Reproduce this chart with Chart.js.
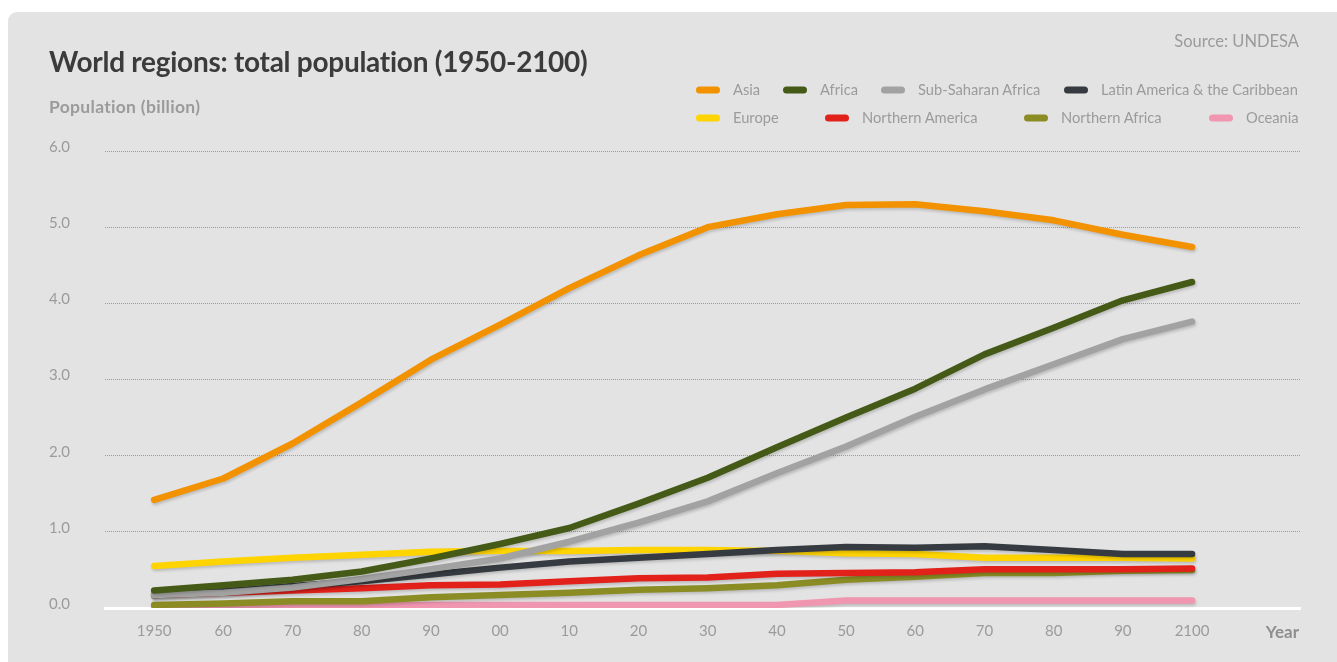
<!DOCTYPE html>
<html>
<head>
<meta charset="utf-8">
<script src="https://cdn.jsdelivr.net/npm/chart.js@4.4.1/dist/chart.umd.min.js"></script>
<style>
  html, body { margin:0; padding:0; background:#ffffff; }
  body { width:1337px; height:662px; position:relative; overflow:hidden; font-family: Lato, "Open Sans", sans-serif; }
  #card { position:absolute; left:8px; top:12px; width:1345px; height:670px; background:#e3e3e3; border-radius:9px; }
  #cv { position:absolute; left:0; top:0; }
  .txt { position:absolute; white-space:nowrap; transform:translateY(-50%); line-height:1.2; }
  #title { left:49px; top:62px; font-size:28px; font-weight:700; color:#3b3b3b; letter-spacing:-0.27px; }
  #ytitle { left:49px; top:106px; font-size:17.5px; font-weight:700; color:#9b9b9b; letter-spacing:0.3px; }
  #source { right:38px; top:42px; font-size:16.5px; color:#9b9b9b; }
  #year { right:38px; top:632px; font-size:17px; font-weight:700; color:#8e8e8e; }
  .leg { position:absolute; transform:translateY(-50%); white-space:nowrap; font-size:14.7px; color:#9b9b9b; line-height:1.2; }
  .sw { position:absolute; width:24px; height:7px; border-radius:4px; transform:translateY(-50%); }
</style>
</head>
<body>
<div id="card"></div>
<canvas id="cv" width="1337" height="662"></canvas>
<div class="txt" id="title">World regions: total population (1950-2100)</div>
<div class="txt" id="ytitle">Population (billion)</div>
<div class="txt" id="source">Source: UNDESA</div>
<div class="txt" id="year">Year</div>
<div id="legend"></div>
<script>
// ---- data ----
const years = [1950,1960,1970,1980,1990,2000,2010,2020,2030,2040,2050,2060,2070,2080,2090,2100];
const xTickLabels = ['1950','60','70','80','90','00','10','20','30','40','50','60','70','80','90','2100'];
const yTickLabels = ['0.0','1.0','2.0','3.0','4.0','5.0','6.0'];

const asia     = [1.42,1.70,2.16,2.70,3.26,3.72,4.20,4.63,5.00,5.17,5.29,5.30,5.21,5.09,4.90,4.74];
const africa   = [0.23,0.30,0.37,0.48,0.65,0.84,1.05,1.37,1.71,2.11,2.50,2.88,3.33,3.68,4.04,4.28];
const subSahAf = [0.17,0.20,0.27,0.38,0.51,0.65,0.87,1.12,1.40,1.77,2.12,2.51,2.87,3.20,3.53,3.76];
const latAm    = [0.17,0.22,0.29,0.35,0.44,0.53,0.61,0.66,0.71,0.76,0.80,0.79,0.81,0.76,0.71,0.71];
const europe   = [0.55,0.61,0.66,0.70,0.74,0.75,0.75,0.76,0.76,0.75,0.72,0.71,0.66,0.66,0.66,0.65];
const northAm  = [0.17,0.20,0.23,0.26,0.30,0.31,0.35,0.39,0.40,0.45,0.46,0.47,0.51,0.51,0.51,0.52];
const northAf  = [0.04,0.06,0.09,0.09,0.14,0.17,0.20,0.24,0.26,0.30,0.37,0.41,0.46,0.46,0.49,0.50];
const oceania  = [0.02,0.02,0.03,0.03,0.04,0.04,0.04,0.04,0.04,0.04,0.10,0.10,0.10,0.10,0.10,0.10];

const seriesNames  = ['Asia','Africa','Sub-Saharan Africa','Latin America & the Caribbean','Europe','Northern America','Northern Africa','Oceania'];
const seriesValues = [asia, africa, subSahAf, latAm, europe, northAm, northAf, oceania];
const seriesColors = ['#f39200','#445a16','#a2a2a2','#353b40','#ffd400','#e3211b','#8b8d24','#f196b0'];

// legend layout (positions only)
const legendPos = [
  [696,90],[783,90],[881,90],[1064,90],
  [696,118],[825,118],[1024,118],[1209,118]
];
const legendEl = document.getElementById('legend');
seriesNames.forEach((n,i)=>{
  const sw = document.createElement('div');
  sw.className='sw'; sw.style.left=legendPos[i][0]+'px'; sw.style.top=legendPos[i][1]+'px';
  sw.style.background=seriesColors[i];
  legendEl.appendChild(sw);
  const t = document.createElement('div');
  t.className='leg'; t.textContent=n;
  t.style.left=(legendPos[i][0]+37)+'px'; t.style.top=legendPos[i][1]+'px';
  legendEl.appendChild(t);
});

const shadowPlugin = {
  id:'shadow',
  beforeDatasetsDraw(chart){ const c=chart.ctx; c.save(); c.shadowColor='rgba(0,0,0,0.18)'; c.shadowBlur=3; c.shadowOffsetX=1; c.shadowOffsetY=2; },
  afterDatasetsDraw(chart){ chart.ctx.restore(); }
};

Chart.defaults.font.family = 'Lato, "Open Sans", sans-serif';
new Chart(document.getElementById('cv'), {
  type:'line',
  data:{
    datasets: seriesNames.map((n,i)=>({
      label:n,
      data: years.map((y,j)=>({x:y, y:seriesValues[i][j]})),
      borderColor: seriesColors[i],
      backgroundColor: seriesColors[i],
      borderWidth: 6.5,
      borderCapStyle:'round',
      borderJoinStyle:'round',
      pointRadius:0,
      tension:0,
      fill:false
    }))
  },
  options:{
    responsive:false,
    animation:false,
    layout:{ padding:{ left:49, right:37, top:151, bottom:14 } },
    plugins:{ legend:{display:false}, tooltip:{enabled:false}, title:{display:false} },
    scales:{
      x:{
        type:'linear', min:1942.9, max:2115.6,
        afterBuildTicks(axis){ axis.ticks = years.map(v=>({value:v})); },
        afterFit(axis){ axis.height = 40; },
        grid:{ display:false, drawTicks:false },
        border:{ display:true, color:'#ffffff', width:3 },
        ticks:{ autoSkip:false, maxRotation:0, padding:14, color:'#9b9b9b', font:{size:15},
          callback:(v,i)=>xTickLabels[i] }
      },
      y:{
        min:0, max:6,
        afterBuildTicks(axis){ axis.ticks = yTickLabels.map((l,i)=>({value:i})); },
        afterFit(axis){ axis.width = 56; },
        grid:{ drawTicks:false, lineWidth:1,
          color:(ctx)=> (ctx.tick && ctx.tick.value===0) ? 'rgba(0,0,0,0)' : '#9c9c9c' },
        border:{ display:false, dash:[1,1] },
        ticks:{ crossAlign:'far', padding:0, labelOffset:-4, color:'#9b9b9b', font:{size:15},
          callback:(v,i)=>yTickLabels[i] }
      }
    }
  },
  plugins:[shadowPlugin]
});
</script>
</body>
</html>
